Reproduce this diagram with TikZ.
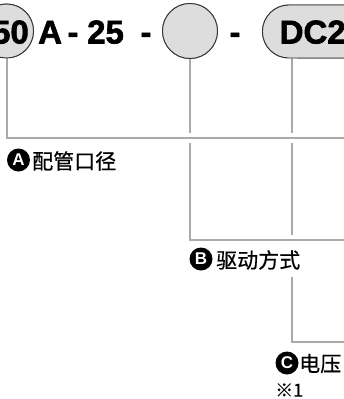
\documentclass[tikz,border=0pt]{standalone}
\usepackage{fontspec}
\setmainfont{Liberation Sans}
\newfontfamily\hv{Liberation Sans Bold}[FakeBold=1.8]
\newfontfamily\hvtag{Liberation Sans Bold}
\newfontfamily\cjk{Noto Sans CJK SC}[FakeBold=0.6]
\usetikzlibrary{calc}
\definecolor{shapegray}{RGB}{221,221,221}
\definecolor{wiregray}{RGB}{170,170,170}
\definecolor{outl}{RGB}{50,50,50}
\begin{document}
\begin{tikzpicture}[x=1pt,y=-1pt,
  shapebox/.style={draw=outl, line width=0.9pt, fill=shapegray},
  wire/.style={draw=wiregray, line width=2pt, preaction={draw=white, line width=10pt}},
  big/.style={font=\hv\fontsize{33}{33}\selectfont, inner sep=0pt},
  tag/.style={circle, fill=black, text=white, inner sep=0pt, minimum size=23pt,
    font=\hvtag\fontsize{17}{17}\selectfont},
  lbl/.style={font=\cjk\fontsize{21}{21}\selectfont, inner sep=0pt, anchor=west},
  note/.style={font=\cjk\fontsize{18}{18}\selectfont, inner sep=0pt, anchor=west}]
\useasboundingbox (0,0) rectangle (344,399);
\clip (0,0) rectangle (344,399);
\fill[white] (0,0) rectangle (344,399);

% top shapes
\path (6.5,31) coordinate (s50pos) (190,31) coordinate (midpos) (262,31.5) coordinate (pillpos);
\node[shapebox, circle, minimum size=54pt, inner sep=0pt] (s50) at (s50pos) {};
\node[shapebox, circle, minimum size=55pt, inner sep=0pt] (mid) at (midpos) {};
\node[shapebox, rectangle, rounded corners=26.5pt, minimum height=53pt, minimum width=170pt, anchor=west] (pill) at (pillpos) {};
\coordinate (pillfoot) at ($(pill.south west)+(30,0)$);

% end points off the right edge
\coordinate (eA) at (360,138);
\coordinate (eB) at (360,240);
\coordinate (eC) at (360,342);

% connectors: C first, then B, then A (later ones cut the earlier ones)
\draw[wire] (pillfoot) |- (eC);
\draw[wire] (mid.south) |- (eB);
\draw[wire] (s50.south) |- (eA);

% redraw shapes on top
\node[shapebox, circle, minimum size=54pt, inner sep=0pt] at (s50pos) {};
\node[shapebox, circle, minimum size=55pt, inner sep=0pt] at (midpos) {};
\node[shapebox, rectangle, rounded corners=26.5pt, minimum height=53pt, minimum width=170pt, anchor=west] at (pillpos) {};

% top texts
\node[big, anchor=base east] (t50) at (29,43.5) {50};
\node[big, anchor=base west] (tA) at (38,43.5) {A};
\node[big, anchor=base] (h1) at (73,43.5) {-};
\node[big, anchor=base west] (t25) at (87,43.5) {25};
\node[big, anchor=base] (h2) at (146,43.5) {-};
\node[big, anchor=base] (h3) at (235,43.5) {-};
\node[big, anchor=base west] (tdc) at (279.5,43.5) {DC24V};

% labels
\node[tag] (ta) at (18.5,160) {A};
\node[lbl] (la) at (32,161) {配管口径};

\node[tag] (tb) at (201,259) {B};
\node[lbl, fill=white, inner ysep=7pt] (lb) at (216,260) {驱动方式};

\node[tag] (tc) at (287,363) {C};
\node[lbl] (lc) at (299,363.5) {电压};
\node[note] (n1) at (275,390) {※1};
\end{tikzpicture}
\end{document}
